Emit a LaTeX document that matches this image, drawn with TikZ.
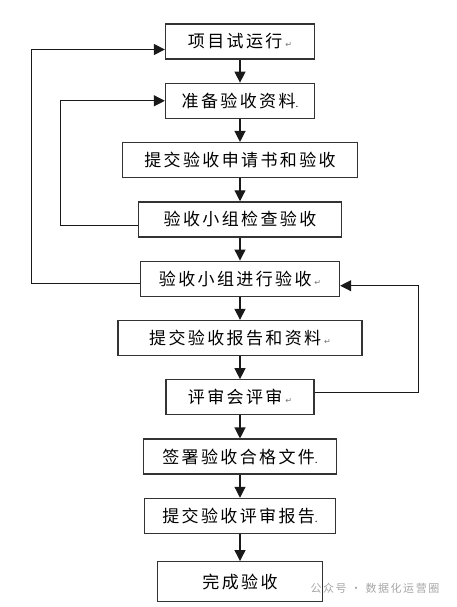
\documentclass[tikz,border=0pt]{standalone}
\usepackage{fontspec}
\newfontfamily\cjk[LetterSpace=14]{Noto Sans CJK SC}
\newfontfamily\symf{DejaVu Sans}
\usepackage{xcolor}
\usepackage{tikz}
\usetikzlibrary{arrows.meta,positioning}
\newcommand{\retmark}{\,{\symf\fontsize{8}{8}\selectfont\textcolor{black!55}{↵}}}
\newcommand{\dotmark}{{\fontsize{10}{10}\selectfont .}}

\begin{document}
\begin{tikzpicture}[
  node distance=23pt,
  box/.style={rectangle, draw=black!80, line width=1.3pt, minimum height=35pt, inner sep=2pt, font=\cjk\fontsize{17}{20}\selectfont},
  arrow/.style={-{Triangle[length=11pt,width=11pt]}, line width=1.2pt, black!90}
]
\useasboundingbox (0,0) rectangle (456pt,-607pt);
\node[box, minimum width=149pt] (trial) at (240pt,-41.5pt) {项目试运行\retmark};
\node[box, minimum width=149pt, below=of trial] (prepare) {准备验收资料\dotmark};
\node[box, minimum width=235pt, below=of prepare] (apply) {提交验收申请书和验收};
\node[box, minimum width=203pt, below=of apply] (check) {验收小组检查验收};
\node[box, minimum width=199pt, below=of check] (run) {验收小组进行验收\retmark};
\node[box, minimum width=244pt, below=of run] (submit) {提交验收报告和资料\retmark};
\node[box, minimum width=148pt, below=of submit] (review) {评审会评审\retmark};
\node[box, minimum width=193pt, below=of review] (sign) {签署验收合格文件\dotmark};
\node[box, minimum width=191pt, below=of sign] (report) {提交验收评审报告\dotmark};
\node[box, minimum width=165pt, minimum height=40pt, below=27pt of report] (done) {完成验收};
\node[anchor=west, text=black!35, font=\cjk\fontsize{11}{12}\selectfont] (mark) at (307pt,-588pt) {公众号 · 数据化运营圈};
\draw[arrow] (trial) -- (prepare);
\draw[arrow] (prepare) -- (apply);
\draw[arrow] (apply) -- (check);
\draw[arrow] (check) -- (run);
\draw[arrow] (run) -- (submit);
\draw[arrow] (submit) -- (review);
\draw[arrow] (review) -- (sign);
\draw[arrow] (sign) -- (report);
\draw[arrow] (report) -- (done);
% feedback loops
\draw[arrow] ([yshift=-6pt]check.west) -- ++(-77pt,0) |- (prepare.west);
\draw[arrow] ([yshift=-5pt]run.west) -- ++(-108pt,0) |- ([yshift=-8pt]trial.west);
\draw[arrow] ([yshift=5pt]review.east) -- ++(104pt,0) |- ([yshift=-7pt]run.east);
\end{tikzpicture}
\end{document}
